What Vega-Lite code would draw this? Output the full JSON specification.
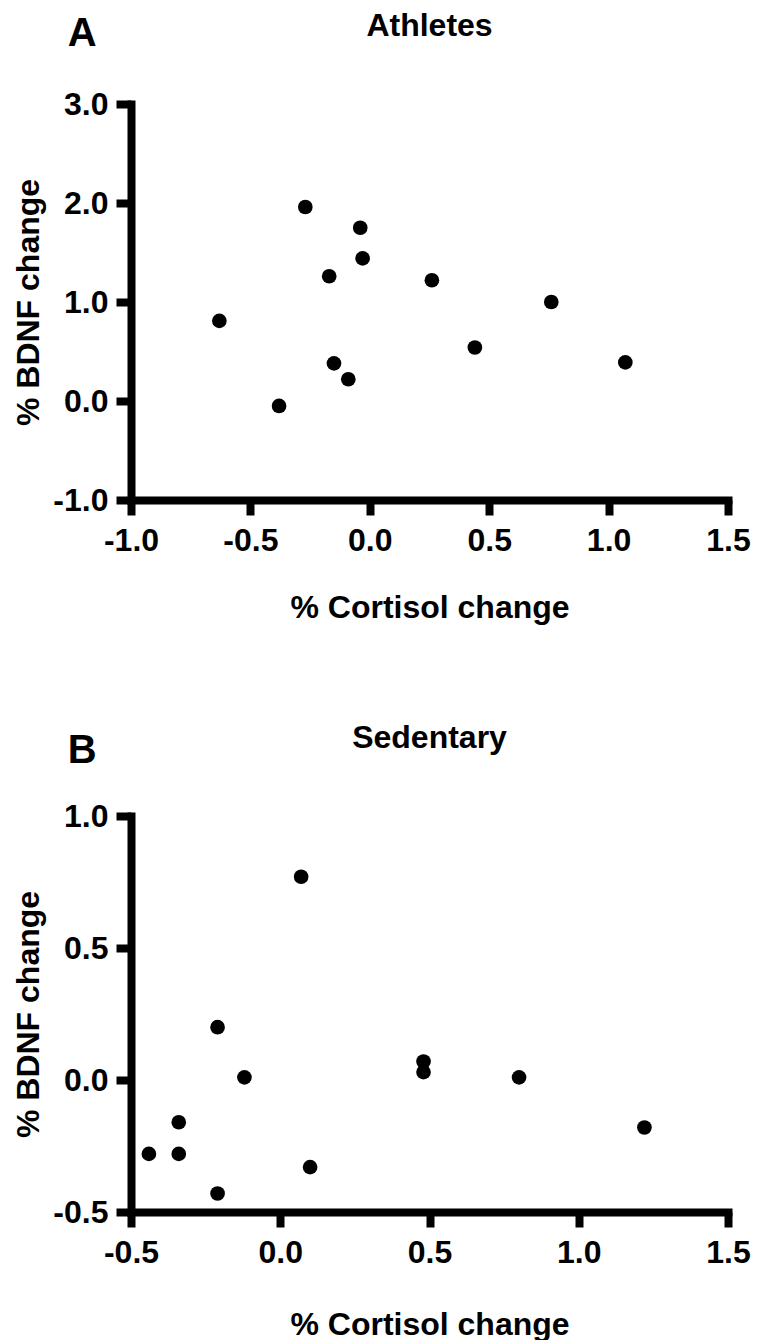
{
  "$schema": "https://vega.github.io/schema/vega-lite/v6.json",
  "background": "white",
  "padding": {"left": 12, "top": 10, "right": 0, "bottom": 0},
  "config": {
    "view": {"stroke": null},
    "font": "Liberation Sans",
    "axis": {
      "domainColor": "black", "domainWidth": 8, "domainCap": "square",
      "tickColor": "black", "tickWidth": 8, "tickSize": 15,
      "labelFont": "Liberation Sans", "labelFontSize": 32, "labelFontWeight": "bold", "labelColor": "black",
      "titleFont": "Liberation Sans", "titleFontSize": 32, "titleFontWeight": "bold", "titleColor": "black",
      "grid": false, "labelFlush": false, "labelOverlap": false
    },
    "axisX": {"labelPadding": 10, "titlePadding": 36},
    "axisY": {"labelPadding": 8, "titlePadding": 7},
    "title": {"font": "Liberation Sans", "fontSize": 32, "fontWeight": "bold", "color": "black"},
    "concat": {"spacing": 99}
  },
  "datasets": {
    "athletes": [
      {"cortisol": -0.63, "bdnf": 0.81},
      {"cortisol": -0.27, "bdnf": 1.96},
      {"cortisol": -0.04, "bdnf": 1.75},
      {"cortisol": -0.03, "bdnf": 1.44},
      {"cortisol": -0.17, "bdnf": 1.26},
      {"cortisol": 0.26, "bdnf": 1.22},
      {"cortisol": 0.76, "bdnf": 1.00},
      {"cortisol": 0.44, "bdnf": 0.54},
      {"cortisol": 1.07, "bdnf": 0.39},
      {"cortisol": -0.15, "bdnf": 0.38},
      {"cortisol": -0.09, "bdnf": 0.22},
      {"cortisol": -0.38, "bdnf": -0.05}
    ],
    "sedentary": [
      {"cortisol": 0.07, "bdnf": 0.77},
      {"cortisol": -0.21, "bdnf": 0.20},
      {"cortisol": -0.12, "bdnf": 0.01},
      {"cortisol": 0.48, "bdnf": 0.07},
      {"cortisol": 0.48, "bdnf": 0.03},
      {"cortisol": 0.80, "bdnf": 0.01},
      {"cortisol": -0.34, "bdnf": -0.16},
      {"cortisol": -0.44, "bdnf": -0.28},
      {"cortisol": -0.34, "bdnf": -0.28},
      {"cortisol": 0.10, "bdnf": -0.33},
      {"cortisol": -0.21, "bdnf": -0.43},
      {"cortisol": 1.22, "bdnf": -0.18}
    ]
  },
  "vconcat": [
    {
      "title": {"text": "A", "anchor": "start", "frame": "bounds", "fontSize": 40, "offset": -44, "dx": 55},
      "vconcat": [
        {
          "width": 597, "height": 396,
          "title": {"text": "Athletes", "anchor": "middle", "frame": "group", "offset": 45},
          "data": {"name": "athletes"},
          "mark": {"type": "circle", "size": 215, "color": "black", "opacity": 1},
          "encoding": {
            "x": {"field": "cortisol", "type": "quantitative",
                  "scale": {"domain": [-1, 1.5], "nice": false, "zero": false},
                  "axis": {"values": [-1, -0.5, 0, 0.5, 1, 1.5], "labelExpr": "replace(format(datum.value, '.1f'), '\u2212', '-')", "title": "% Cortisol change"}},
            "y": {"field": "bdnf", "type": "quantitative",
                  "scale": {"domain": [-1, 3], "nice": false, "zero": false},
                  "axis": {"values": [-1, 0, 1, 2, 3], "labelExpr": "replace(format(datum.value, '.1f'), '\u2212', '-')", "title": "% BDNF change"}}
          }
        }
      ]
    },
    {
      "title": {"text": "B", "anchor": "start", "frame": "bounds", "fontSize": 40, "offset": -49, "dx": 55},
      "vconcat": [
        {
          "width": 597, "height": 396,
          "title": {"text": "Sedentary", "anchor": "middle", "frame": "group", "offset": 45},
          "data": {"name": "sedentary"},
          "mark": {"type": "circle", "size": 215, "color": "black", "opacity": 1},
          "encoding": {
            "x": {"field": "cortisol", "type": "quantitative",
                  "scale": {"domain": [-0.5, 1.5], "nice": false, "zero": false},
                  "axis": {"values": [-0.5, 0, 0.5, 1, 1.5], "labelExpr": "replace(format(datum.value, '.1f'), '\u2212', '-')", "title": "% Cortisol change", "titlePadding": 41}},
            "y": {"field": "bdnf", "type": "quantitative",
                  "scale": {"domain": [-0.5, 1], "nice": false, "zero": false},
                  "axis": {"values": [-0.5, 0, 0.5, 1], "labelExpr": "replace(format(datum.value, '.1f'), '\u2212', '-')", "title": "% BDNF change"}}
          }
        }
      ]
    }
  ]
}
